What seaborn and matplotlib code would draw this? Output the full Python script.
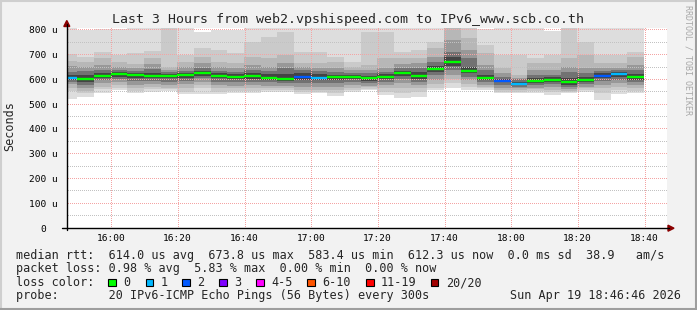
import numpy as np
import pandas as pd
import matplotlib
matplotlib.use("Agg")
import matplotlib.pyplot as plt
import matplotlib.dates as mdates
from matplotlib.patches import Rectangle, Polygon
from matplotlib.lines import Line2D
from matplotlib.transforms import IdentityTransform
import seaborn as sns

# ---------------- data ----------------
col_end = pd.date_range("2026-04-19 15:50", "2026-04-19 18:40", freq="5min")  # 35 five-minute steps
median_us = [607, 601, 615, 621, 619, 614, 614, 617, 625, 615, 610, 613, 607, 603, 609, 607, 609, 609,
             605, 610, 626, 613, 641, 671, 634, 605, 594, 583, 594, 598, 589, 598, 615, 624, 612]
loss_count = [1, 0, 0, 0, 0, 0, 0, 0, 0, 0, 0, 0, 0, 0, 2, 1, 0, 0,
              0, 0, 0, 0, 0, 0, 0, 0, 2, 1, 0, 0, 0, 0, 2, 1, 0]
max_us = [815, 800, 804, 804, 815, 815, 820, 815, 790, 800, 800, 815, 815, 815, 815, 815, 815, 815,
          815, 815, 815, 815, 815, 830, 815, 804, 815, 815, 815, 795, 815, 815, 815, 815, 815]
hi2_us = [705, 692, 712, 699, 706, 715, 812, 699, 726, 719, 706, 753, 773, 793, 712, 712, 692, 672,
          793, 793, 712, 719, 753, 825, 812, 739, 699, 699, 686, 700, 812, 753, 699, 699, 712]
hi3_us = [675, 669, 688, 672, 661, 686, 652, 672, 692, 672, 665, 692, 686, 699, 665, 665, 672, 652,
          659, 686, 686, 686, 726, 815, 766, 706, 645, 618, 665, 665, 686, 699, 665, 665, 692]
hi5_us = [656, 652, 659, 652, 648, 661, 638, 652, 665, 652, 645, 659, 652, 665, 652, 648, 645, 638,
          638, 645, 661, 665, 692, 760, 719, 659, 625, 607, 638, 640, 652, 645, 645, 648, 659]
hi7_us = [632, 634, 638, 638, 634, 642, 629, 636, 645, 634, 631, 638, 634, 645, 638, 634, 629, 625,
          625, 631, 648, 648, 672, 710, 686, 638, 611, 601, 618, 620, 631, 625, 634, 638, 638]
hi9_us = [618, 618, 628, 629, 625, 625, 621, 625, 635, 625, 621, 625, 621, 621, 625, 621, 618, 618,
          615, 621, 636, 629, 656, 690, 652, 618, 602, 591, 607, 610, 605, 611, 625, 631, 621]
lo9_us = [598, 589, 607, 611, 607, 605, 605, 605, 615, 605, 602, 602, 598, 594, 598, 598, 598, 602,
          594, 602, 615, 602, 631, 655, 625, 598, 589, 578, 584, 591, 578, 589, 607, 611, 598]
lo7_us = [589, 578, 598, 602, 594, 594, 591, 594, 605, 591, 589, 591, 589, 584, 584, 584, 584, 591,
          584, 589, 602, 591, 618, 640, 611, 589, 578, 571, 578, 580, 571, 580, 594, 598, 589]
lo5_us = [580, 564, 584, 589, 578, 580, 578, 580, 591, 578, 575, 578, 575, 574, 571, 571, 571, 578,
          575, 578, 584, 578, 598, 620, 598, 578, 564, 564, 567, 571, 562, 571, 578, 584, 578]
lo3_us = [564, 553, 571, 578, 564, 571, 567, 564, 578, 564, 564, 564, 564, 564, 558, 558, 558, 564,
          568, 564, 564, 564, 580, 600, 580, 571, 558, 558, 560, 558, 555, 564, 567, 571, 564]
lo2_us = [553, 544, 560, 567, 555, 560, 560, 551, 564, 551, 555, 555, 558, 558, 548, 551, 544, 558,
          562, 551, 544, 551, 567, 585, 571, 564, 551, 551, 555, 551, 551, 558, 544, 558, 555]
min_us = [521, 531, 547, 558, 544, 551, 554, 541, 540, 540, 544, 547, 551, 551, 540, 544, 535, 551,
          556, 537, 524, 531, 558, 566, 558, 558, 544, 544, 544, 537, 544, 551, 517, 540, 544]

ytick_values = [0, 100, 200, 300, 400, 500, 600, 700, 800]
ytick_labels = ["0  ", "100 u", "200 u", "300 u", "400 u", "500 u", "600 u", "700 u", "800 u"]
xtick_times = pd.date_range("2026-04-19 16:00", "2026-04-19 18:40", freq="20min")
xtick_labels = ["16:00", "16:20", "16:40", "17:00", "17:20", "17:40", "18:00", "18:20", "18:40"]
loss_labels = ["0", "1", "2", "3", "4-5", "6-10", "11-19", "20/20"]
loss_lower = [0, 1, 2, 3, 4, 6, 11, 20]
loss_colors = ["#00ff00", "#00b8ff", "#0059ff", "#7e00ff", "#ff00ff", "#ff5500", "#ff0000", "#a10000"]

t_now = pd.Timestamp("2026-04-19 18:46:46")
t_start = t_now - pd.Timedelta(hours=3)

title = "Last 3 Hours from web2.vpshispeed.com to IPv6_www.scb.co.th"
line1 = "median rtt:  614.0 us avg  673.8 us max  583.4 us min  612.3 us now  0.0 ms sd  38.9   am/s"
line2 = "packet loss: 0.98 % avg  5.83 % max  0.00 % min  0.00 % now"
line3 = "loss color:"
line4 = "probe:       20 IPv6-ICMP Echo Pings (56 Bytes) every 300s"
stamp = "Sun Apr 19 18:46:46 2026"

# ---------------- style ----------------
sns.set_style("white")
MONO = ["DejaVu Sans Mono"]
plt.rcParams["font.family"] = MONO

W, H = 697, 310
BG = "#f2f2f2"
fig = plt.figure(figsize=(W / 100, H / 100), dpi=100, facecolor=BG)


def fx(x):
    return x / W


def fy(y):
    return 1 - y / H


ax_l, ax_r, ax_t, ax_b = 66.7, 666.7, 28, 228
ax = fig.add_axes([fx(ax_l), fy(ax_b), (ax_r - ax_l) / W, (ax_b - ax_t) / H])
ax.set_facecolor("white")

x_end = mdates.date2num(col_end.to_pydatetime())
step = 5 / 1440.0
x_start = x_end - step

layers = [
    (min_us, max_us, "#dddddd"),
    (lo2_us, hi2_us, "#cacaca"),
    (lo3_us, hi3_us, "#b7b7b7"),
    (lo5_us, hi5_us, "#989898"),
    (lo7_us, hi7_us, "#727272"),
    (lo9_us, hi9_us, "#444444"),
]
for lo, hi, c in layers:
    lo = np.asarray(lo, float)
    hi = np.asarray(hi, float)
    ax.bar(x_start, hi - lo, bottom=lo, width=step, align="edge", color=c,
           linewidth=0, antialiased=False, zorder=1)

# median segments via seaborn
cls = [loss_labels[np.searchsorted(loss_lower, n, side="right") - 1] for n in loss_count]
rows = []
for i in range(len(median_us)):
    rows.append({"col": i, "x": x_start[i], "median": median_us[i], "loss": cls[i]})
    rows.append({"col": i, "x": x_end[i], "median": median_us[i], "loss": cls[i]})
seg_df = pd.DataFrame(rows)
palette = dict(zip(loss_labels, loss_colors))
sns.lineplot(data=seg_df, x="x", y="median", hue="loss", units="col", estimator=None,
             palette=palette, legend=False, linewidth=1.7, sort=False, ax=ax,
             solid_capstyle="butt", zorder=3)

xlim = (mdates.date2num(t_start.to_pydatetime()), mdates.date2num(t_now.to_pydatetime()))
ax.set_xlim(*xlim)
ax.set_ylim(0, 808.08)

# ticks
ax.set_yticks(ytick_values)
ax.set_yticklabels(ytick_labels)
xt = mdates.date2num(xtick_times.to_pydatetime())
ax.set_xticks(xt)
ax.set_xticklabels(xtick_labels)
ax.set_xlabel("")
ax.set_ylabel("")
ax.grid(False)
ax.tick_params(axis="y", which="major", length=3, width=0.72, pad=3.3, labelsize=6.8, colors="black")
ax.tick_params(axis="x", which="major", length=2, width=0.72, pad=2.2, labelsize=6.8, colors="black")
for s in ax.spines.values():
    s.set_visible(False)

# dotted grid: single pixels every second pixel, over the smoke, under the medians
minor_x = mdates.date2num(pd.date_range("2026-04-19 15:50", "2026-04-19 18:45", freq="5min").to_pydatetime())
(xd0, yd0) = ax.transData.transform((xlim[0], 0))
(xd1, yd1) = ax.transData.transform((xlim[1], 808.08))


def hdots(v, color):
    yd = np.floor(ax.transData.transform((xlim[0], v))[1]) + 0.5
    xs = np.arange(np.floor(xd0) + 1.5, xd1, 2.0)
    ax.add_line(Line2D(xs, np.full_like(xs, yd), ls="none", marker=",", color=color,
                       transform=IdentityTransform(), zorder=2, clip_on=False))


def vdots(v, color):
    xd = np.floor(ax.transData.transform((v, 0))[0]) + 0.5
    ys = np.arange(np.floor(yd0) + 1.5, yd1, 2.0)
    ax.add_line(Line2D(np.full_like(ys, xd), ys, ls="none", marker=",", color=color,
                       transform=IdentityTransform(), zorder=2, clip_on=False))


MINOR_C, MAJOR_C = "#c2c2c2", "#f4a4a4"
for yv in np.arange(50, 800, 100):
    hdots(yv, MINOR_C)
for xv in minor_x:
    if not np.any(np.isclose(xv, xt)):
        vdots(xv, MINOR_C)
for yv in ytick_values[1:]:
    hdots(yv, MAJOR_C)
for xv in xt:
    vdots(xv, MAJOR_C)

# axes lines and arrows
fig.add_artist(Line2D([fx(62), fx(669)], [fy(228.2), fy(228.2)], color="black", lw=1.0))
fig.add_artist(Line2D([fx(66.8), fx(66.8)], [fy(230), fy(24)], color="black", lw=1.0))
arrow_c = "#8b0000"
fig.add_artist(Polygon([(fx(66.8), fy(20.5)), (fx(63.8), fy(26.5)), (fx(69.8), fy(26.5))],
                       closed=True, color=arrow_c, transform=fig.transFigure))
fig.add_artist(Polygon([(fx(674), fy(228.2)), (fx(668), fy(225.2)), (fx(668), fy(231.2))],
                       closed=True, color=arrow_c, transform=fig.transFigure))

# texts
fig.text(fx(347.5), fy(19.5), title, ha="center", va="center", fontsize=9.5, family=MONO)
fig.text(fx(10), fy(126), "Seconds", ha="center", va="center", rotation=90, fontsize=8.5, family=MONO)
fig.text(fx(688), fy(60), "RRDTOOL / TOBI OETIKER", ha="center", va="center", rotation=270,
         fontsize=6, color="#a8a8a8", family=MONO)

ys = [255, 268.5, 282.5, 296]
fig.text(fx(16), fy(ys[0]), line1, ha="left", va="center", fontsize=8.5, family=MONO)
fig.text(fx(16), fy(ys[1]), line2, ha="left", va="center", fontsize=8.5, family=MONO)
fig.text(fx(16), fy(ys[2]), line3, ha="left", va="center", fontsize=8.5, family=MONO)
fig.text(fx(16), fy(ys[3]), line4, ha="left", va="center", fontsize=8.5, family=MONO)
fig.text(fx(681), fy(ys[3]), stamp, ha="right", va="center", fontsize=8.5, family=MONO)

box_x = [108.3, 145.7, 182.3, 219, 256, 307, 366, 430.7]
for bx, lab, c in zip(box_x, loss_labels, loss_colors):
    fig.add_artist(Rectangle((fx(bx), fy(286)), 7.5 / W, 7.5 / H, facecolor=c, edgecolor="black",
                             linewidth=0.8, transform=fig.transFigure))
    fig.text(fx(bx + 15), fy(ys[2]), lab, ha="left", va="center", fontsize=8.5, family=MONO)

# 3D frame
fig.add_artist(Line2D([0, 1], [fy(0.75), fy(0.75)], color="#cfcfcf", lw=1.5))
fig.add_artist(Line2D([fx(0.75), fx(0.75)], [0, 1], color="#cfcfcf", lw=1.5))
fig.add_artist(Line2D([0, 1], [fy(H - 1), fy(H - 1)], color="#9e9e9e", lw=1.5))
fig.add_artist(Line2D([fx(W - 1), fx(W - 1)], [0, 1], color="#9e9e9e", lw=1.5))

fig.savefig("out.png", dpi=100, facecolor=BG)
